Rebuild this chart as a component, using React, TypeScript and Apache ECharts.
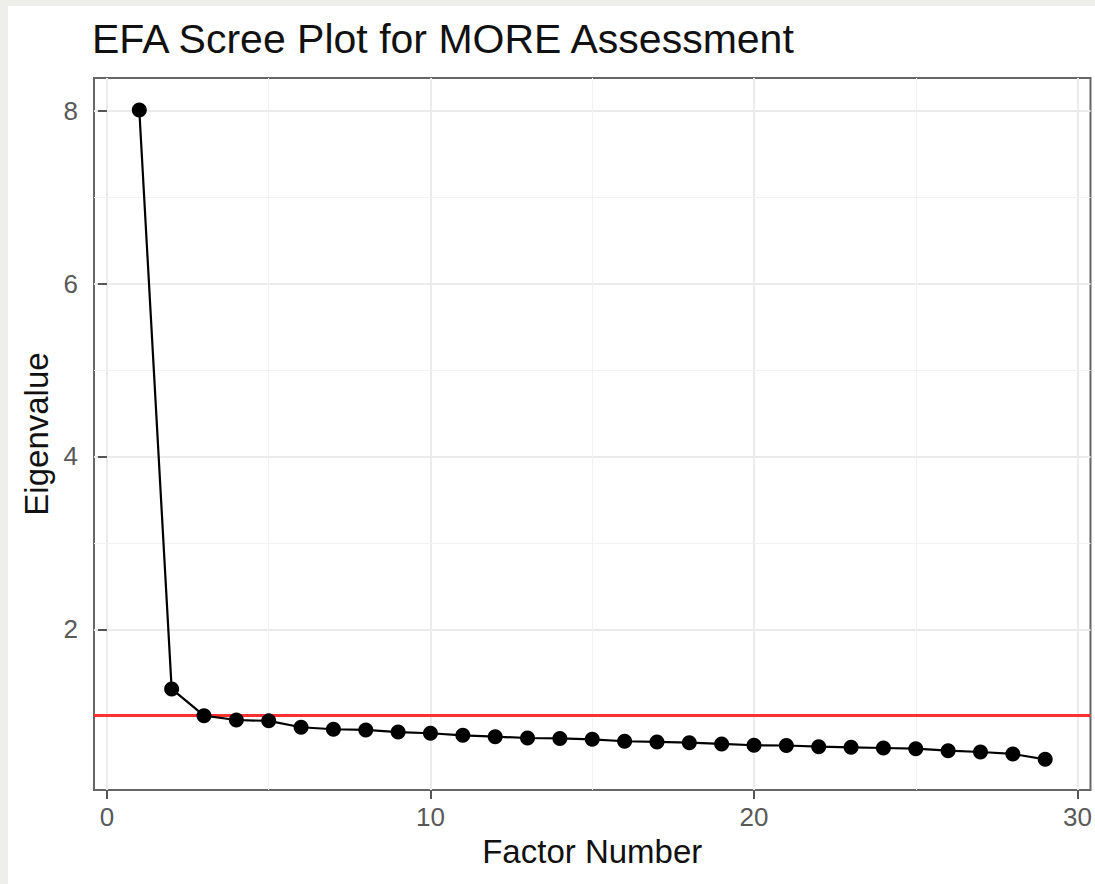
import React, { useEffect, useRef } from "react";
import * as echarts from "echarts";

// Scree plot data: eigenvalue per extracted factor
const factors = [
  1, 2, 3, 4, 5, 6, 7, 8, 9, 10, 11, 12, 13, 14, 15, 16, 17, 18, 19, 20, 21,
  22, 23, 24, 25, 26, 27, 28, 29,
];
const eigenvalues = [
  8.01, 1.31, 1.0, 0.95, 0.94, 0.866, 0.843, 0.835, 0.81, 0.797, 0.773, 0.757,
  0.742, 0.737, 0.727, 0.704, 0.696, 0.688, 0.673, 0.658, 0.655, 0.641, 0.634,
  0.626, 0.618, 0.595, 0.58, 0.557, 0.495,
];
const kaiserCutoff = 1;

const xTicks = [0, 10, 20, 30];
const yTicks = [2, 4, 6, 8];
const xMinor = [5, 15, 25];
const yMinor = [1, 3, 5, 7];

const FONT = "'Liberation Sans', Arial, Helvetica, sans-serif";

export default function App() {
  const ref = useRef<HTMLDivElement>(null);

  useEffect(() => {
    if (!ref.current) return;
    const chart = echarts.init(ref.current, undefined, { renderer: "svg" });

    const points = factors.map((f, i) => [f, eigenvalues[i]]);

    const minorLines = [
      ...xMinor.map((v) => ({ xAxis: v })),
      ...yMinor.map((v) => ({ yAxis: v })),
    ];

    chart.setOption({
      animation: false,
      backgroundColor: "#ffffff",
      graphic: [
        {
          type: "rect",
          shape: { x: 0, y: 0, width: 8, height: 884 },
          style: { fill: "#eeeeea" },
          silent: true,
        },
        {
          type: "rect",
          shape: { x: 0, y: 0, width: 1095, height: 6 },
          style: { fill: "#eeeeea" },
          silent: true,
        },
      ],
      title: {
        text: "EFA Scree Plot for MORE Assessment",
        left: 92,
        top: 18,
        padding: 0,
        textStyle: {
          fontFamily: FONT,
          fontSize: 41,
          fontWeight: "normal",
          color: "#111111",
        },
      },
      grid: {
        left: 94,
        right: 3,
        top: 78,
        bottom: 94,
        show: true,
        backgroundColor: "#ffffff",
        borderColor: "#666666",
        borderWidth: 2,
      },
      xAxis: {
        type: "value",
        min: -0.4,
        max: 30.4,
        axisLine: { show: false },
        axisTick: {
          show: true,
          customValues: xTicks,
          length: 9,
          lineStyle: { color: "#555555", width: 2 },
        },
        axisLabel: {
          customValues: xTicks,
          fontFamily: FONT,
          fontSize: 26,
          color: "#595959",
          margin: 14,
        },
        splitLine: { show: true, lineStyle: { color: "#ebebeb", width: 2 } },
        name: "Factor Number",
        nameLocation: "middle",
        nameGap: 44,
        nameTextStyle: { fontFamily: FONT, fontSize: 33, color: "#111111" },
      },
      yAxis: {
        type: "value",
        min: 0.14,
        max: 8.38,
        axisLine: { show: false },
        axisTick: {
          show: true,
          customValues: yTicks,
          length: 9,
          lineStyle: { color: "#555555", width: 2 },
        },
        axisLabel: {
          customValues: yTicks,
          fontFamily: FONT,
          fontSize: 26,
          color: "#595959",
          margin: 16,
        },
        splitLine: { show: true, lineStyle: { color: "#ebebeb", width: 2 } },
        name: "Eigenvalue",
        nameLocation: "middle",
        nameGap: 38,
        nameTextStyle: { fontFamily: FONT, fontSize: 33, color: "#111111" },
      },
      series: [
        {
          // minor grid lines
          type: "line",
          data: [],
          z: 1,
          silent: true,
          markLine: {
            z: 1,
            silent: true,
            symbol: "none",
            label: { show: false },
            lineStyle: { color: "#f2f2f2", width: 1, type: "solid" },
            data: minorLines,
          },
        },
        {
          // Kaiser criterion reference line
          type: "line",
          data: [],
          z: 2,
          silent: true,
          markLine: {
            z: 2,
            silent: true,
            symbol: "none",
            label: { show: false },
            lineStyle: { color: "#ff3030", width: 3, type: "solid" },
            data: [{ yAxis: kaiserCutoff }],
          },
        },
        {
          type: "line",
          data: points,
          z: 10,
          symbol: "circle",
          symbolSize: 15,
          itemStyle: { color: "#000000" },
          lineStyle: { color: "#000000", width: 2.2 },
        },
      ],
    });

    return () => chart.dispose();
  }, []);

  return (
    <div
      ref={ref}
      style={{ position: "absolute", left: 0, top: 0, width: 1095, height: 884 }}
    />
  );
}
